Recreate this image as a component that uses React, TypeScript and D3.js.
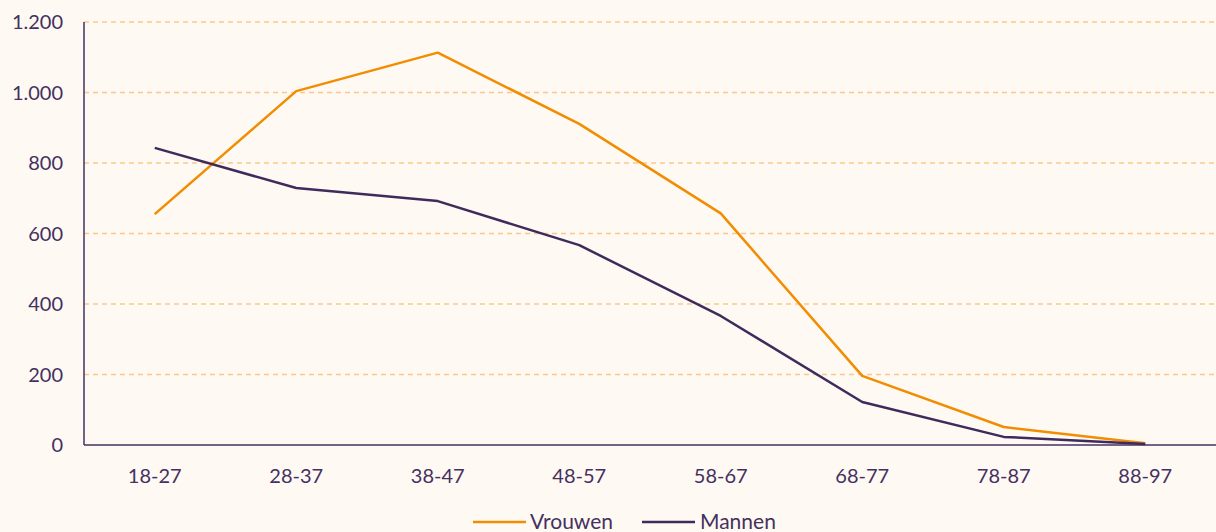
import React from "react";
import * as d3 from "d3";

const categories = ["18-27", "28-37", "38-47", "48-57", "58-67", "68-77", "78-87", "88-97"];
const vrouwen = [655, 1004, 1113, 911, 657, 196, 51, 5];
const mannen = [843, 729, 692, 567, 366, 122, 23, 3];
const yTicks = [0, 200, 400, 600, 800, 1000, 1200];

const W = 1216;
const H = 532;
const margin = { left: 84, right: 0, top: 22, bottom: 87 };
const BG = "#fef9f3";
const TEXT = "#45305f";
const ORANGE = "#f28c00";
const PURPLE = "#3f2a5c";
const GRID = "#fec78a";
const FONT = "Lato, 'Noto Sans', sans-serif";

export default function App() {
  const x = d3.scaleBand<string>().domain(categories).range([margin.left, W - margin.right]);
  const y = d3.scaleLinear().domain([0, 1200]).range([H - margin.bottom, margin.top]);
  const cx = (c: string) => (x(c) ?? 0) + x.bandwidth() / 2;
  const line = d3
    .line<number>()
    .x((_, i) => cx(categories[i]))
    .y((d) => y(d));
  const fmt = (v: number) => d3.format(",")(v).replace(/,/g, ".");

  return (
    <svg
      width={W}
      height={H}
      style={{ position: "fixed", left: 0, top: 0, background: BG, fontFamily: FONT }}
    >
      <rect x={0} y={0} width={W} height={H} fill={BG} />
      {yTicks.slice(1).map((t) => (
        <line
          key={t}
          x1={margin.left}
          x2={W - margin.right}
          y1={y(t)}
          y2={y(t)}
          stroke={GRID}
          strokeWidth={1.5}
          strokeDasharray="5 4"
        />
      ))}
      {yTicks.map((t) => (
        <text key={t} x={63} y={y(t)} dy="0.35em" textAnchor="end" fontSize={20} fill={TEXT}>
          {fmt(t)}
        </text>
      ))}
      <line x1={margin.left} x2={margin.left} y1={margin.top} y2={y(0)} stroke={TEXT} strokeWidth={1.5} />
      <line x1={margin.left} x2={W - margin.right} y1={y(0)} y2={y(0)} stroke={TEXT} strokeWidth={1.5} />
      {categories.map((c) => (
        <text key={c} x={cx(c)} y={483} textAnchor="middle" fontSize={20} fill={TEXT}>
          {c}
        </text>
      ))}
      <path d={line(vrouwen) ?? ""} fill="none" stroke={ORANGE} strokeWidth={2.5} strokeLinejoin="round" />
      <path d={line(mannen) ?? ""} fill="none" stroke={PURPLE} strokeWidth={2.5} strokeLinejoin="round" />
      <g>
        <line x1={473} x2={526} y1={522} y2={522} stroke={ORANGE} strokeWidth={2.5} />
        <text x={530} y={522} dy="0.35em" fontSize={21} fill={TEXT}>Vrouwen</text>
        <line x1={642} x2={695} y1={522} y2={522} stroke={PURPLE} strokeWidth={2.5} />
        <text x={700} y={522} dy="0.35em" fontSize={21} fill={TEXT}>Mannen</text>
      </g>
    </svg>
  );
}
